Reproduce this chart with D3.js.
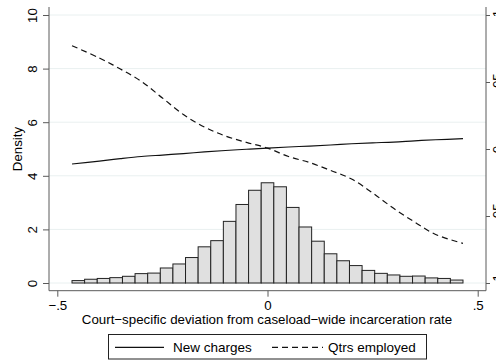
<!DOCTYPE html>
<html>
<head>
<meta charset="utf-8">
<script src="https://cdn.jsdelivr.net/npm/d3@7"></script>
<style>
  body { margin: 0; background: #fff; }
  svg { display: block; font-family: "Liberation Sans", Arial, sans-serif; }
</style>
</head>
<body>
<svg id="chart"></svg>
<script>
// ---------------------------//
//            DATA            //
// ---------------------------//

// histogram bins (left edge), width .03
var binStarts = [-0.465, -0.435, -0.405, -0.375, -0.345, -0.315, -0.285, -0.255,
  -0.225, -0.195, -0.165, -0.135, -0.105, -0.075, -0.045, -0.015, 0.015, 0.045,
  0.075, 0.105, 0.135, 0.165, 0.195, 0.225, 0.255, 0.285, 0.315, 0.345, 0.375,
  0.405, 0.435];
var binWidth = 0.03;
var density = [0.09, 0.14, 0.17, 0.20, 0.25, 0.35, 0.37, 0.56, 0.71, 0.95, 1.35,
  1.58, 2.30, 2.93, 3.46, 3.74, 3.59, 2.82, 2.09, 1.56, 1.09, 0.83, 0.65, 0.47,
  0.36, 0.30, 0.25, 0.26, 0.19, 0.17, 0.11];

// fitted lines (right axis)
var lineX = [-0.465, -0.4, -0.35, -0.3, -0.25, -0.2, -0.15, -0.1, -0.05, 0,
  0.05, 0.1, 0.15, 0.2, 0.25, 0.3, 0.35, 0.4, 0.465];
var newCharges = [-0.0112, -0.0090, -0.0072, -0.0056, -0.0045, -0.0034, -0.0022,
  -0.0011, -0.0002, 0.0007, 0.0015, 0.0022, 0.0030, 0.0039, 0.0046, 0.0052,
  0.0061, 0.0069, 0.0077];
var qtrsEmployed = [0.0771, 0.0679, 0.0597, 0.0504, 0.0381, 0.0257, 0.0164,
  0.0097, 0.0049, 0.0007, -0.0056, -0.0101, -0.0160, -0.0224, -0.0328, -0.0443,
  -0.0545, -0.0638, -0.0704];

var xTicks = [-0.5, 0, 0.5];
var xTickLabels = ["\u2212.5", "0", ".5"];
var yTicks = [0, 2, 4, 6, 8, 10];
var yRTicks = [-0.1, -0.05, 0, 0.05, 0.1];
var yRTickLabels = ["\u2212.1", "\u2212.05", "0", ".05", ".1"];

// ---------------------------//
//         DIMENSIONS         //
// ---------------------------//

var width = 496, height = 362;
var plot = { left: 49, right: 486, top: 7, bottom: 290.7 };
var fontSize = "13.3px";

var svg = d3.select("#chart")
    .attr("width", width)
    .attr("height", height);

// ---------------------------//
//       AXIS  AND SCALE      //
// ---------------------------//

var x = d3.scaleLinear().domain([-0.5, 0.5]).range([57.3, 477.7]);
var y = d3.scaleLinear().domain([0, 10]).range([283, 15]);
var yR = d3.scaleLinear().domain([-0.1, 0.1]).range([283, 15]);

var axisColor = "#5a5a5a";

// gridlines
svg.append("g")
    .selectAll("line")
    .data(yTicks)
    .enter().append("line")
    .attr("x1", plot.left)
    .attr("x2", plot.right)
    .attr("y1", d => y(d))
    .attr("y2", d => y(d))
    .attr("stroke", "#e9f0f0")
    .attr("stroke-width", 1);

// ---------------------------//
//           DRAWING          //
// ---------------------------//

svg.append("g")
    .selectAll("rect")
    .data(density)
    .enter().append("rect")
    .attr("x", (d, i) => x(binStarts[i]))
    .attr("y", d => y(d))
    .attr("width", (d, i) => x(binStarts[i] + binWidth) - x(binStarts[i]))
    .attr("height", d => y(0) - y(d))
    .attr("fill", "#e0e0e0")
    .attr("stroke", "#222")
    .attr("stroke-width", 1);

var line = function(vals) {
  return d3.line()
      .x((d, i) => x(lineX[i]))
      .y(d => yR(d))
      .curve(d3.curveCatmullRom)(vals);
};

svg.append("path")
    .attr("d", line(newCharges))
    .attr("fill", "none")
    .attr("stroke", "#111")
    .attr("stroke-width", 1.2);

svg.append("path")
    .attr("d", line(qtrsEmployed))
    .attr("fill", "none")
    .attr("stroke", "#111")
    .attr("stroke-width", 1.2)
    .attr("stroke-dasharray", "6,4");

// left axis
var yAxis = svg.append("g")
    .attr("transform", "translate(" + plot.left + ",0)")
    .call(d3.axisLeft(y).tickValues(yTicks).tickSize(6).tickSizeOuter(0).tickFormat(d3.format("d")));
yAxis.select(".domain").attr("d", "M0," + plot.top + "V" + plot.bottom);
yAxis.selectAll("line").attr("stroke", axisColor);
yAxis.select(".domain").attr("stroke", axisColor);
yAxis.selectAll("text")
    .attr("x", null).attr("dy", null)
    .attr("transform", "translate(-12,0) rotate(-90)")
    .attr("text-anchor", "middle")
    .style("font-size", fontSize)
    .attr("fill", "#000");

// right axis (labels run off the edge, as in the original)
var yRAxis = svg.append("g")
    .attr("transform", "translate(" + plot.right + ",0)")
    .call(d3.axisRight(yR).tickValues(yRTicks).tickSize(4).tickSizeOuter(0)
        .tickFormat((d, i) => yRTickLabels[i]));
yRAxis.select(".domain").attr("d", "M0," + plot.top + "V" + plot.bottom);
yRAxis.selectAll("line").attr("stroke", axisColor);
yRAxis.select(".domain").attr("stroke", axisColor);
yRAxis.selectAll("text")
    .attr("x", null).attr("dy", null)
    .attr("transform", "translate(16,0) rotate(-90)")
    .attr("text-anchor", "middle")
    .style("font-size", fontSize)
    .attr("fill", "#000");

// bottom axis
var xAxis = svg.append("g")
    .attr("transform", "translate(0," + plot.bottom + ")")
    .call(d3.axisBottom(x).tickValues(xTicks).tickSize(6).tickSizeOuter(0)
        .tickFormat((d, i) => xTickLabels[i]));
xAxis.select(".domain").attr("d", "M" + plot.left + ",0H" + plot.right);
xAxis.selectAll("line").attr("stroke", axisColor);
xAxis.select(".domain").attr("stroke", axisColor);
xAxis.selectAll("text")
    .attr("y", 19.6).attr("dy", null)
    .style("font-size", fontSize)
    .attr("fill", "#000");

// axis titles
svg.append("text")
    .attr("transform", "translate(22,149) rotate(-90)")
    .attr("text-anchor", "middle")
    .style("font-size", fontSize)
    .text("Density");

svg.append("text")
    .attr("x", 267)
    .attr("y", 324.3)
    .attr("text-anchor", "middle")
    .style("font-size", fontSize)
    .text("Court\u2212specific deviation from caseload\u2212wide incarceration rate");

// ---------------------------//
//           LEGEND           //
// ---------------------------//

var legend = svg.append("g");

legend.append("rect")
    .attr("x", 108.5)
    .attr("y", 334.5)
    .attr("width", 318)
    .attr("height", 24.5)
    .attr("fill", "#fff")
    .attr("stroke", "#222")
    .attr("stroke-width", 1);

legend.append("line")
    .attr("x1", 115).attr("x2", 164)
    .attr("y1", 347.3).attr("y2", 347.3)
    .attr("stroke", "#111").attr("stroke-width", 1.2);

legend.append("text")
    .attr("x", 173).attr("y", 351.5)
    .style("font-size", "13.5px")
    .text("New charges");

legend.append("line")
    .attr("x1", 272).attr("x2", 323)
    .attr("y1", 347.3).attr("y2", 347.3)
    .attr("stroke", "#111").attr("stroke-width", 1.2)
    .attr("stroke-dasharray", "6,4");

legend.append("text")
    .attr("x", 328).attr("y", 351.5)
    .style("font-size", "13.5px")
    .text("Qtrs employed");
</script>
</body>
</html>
